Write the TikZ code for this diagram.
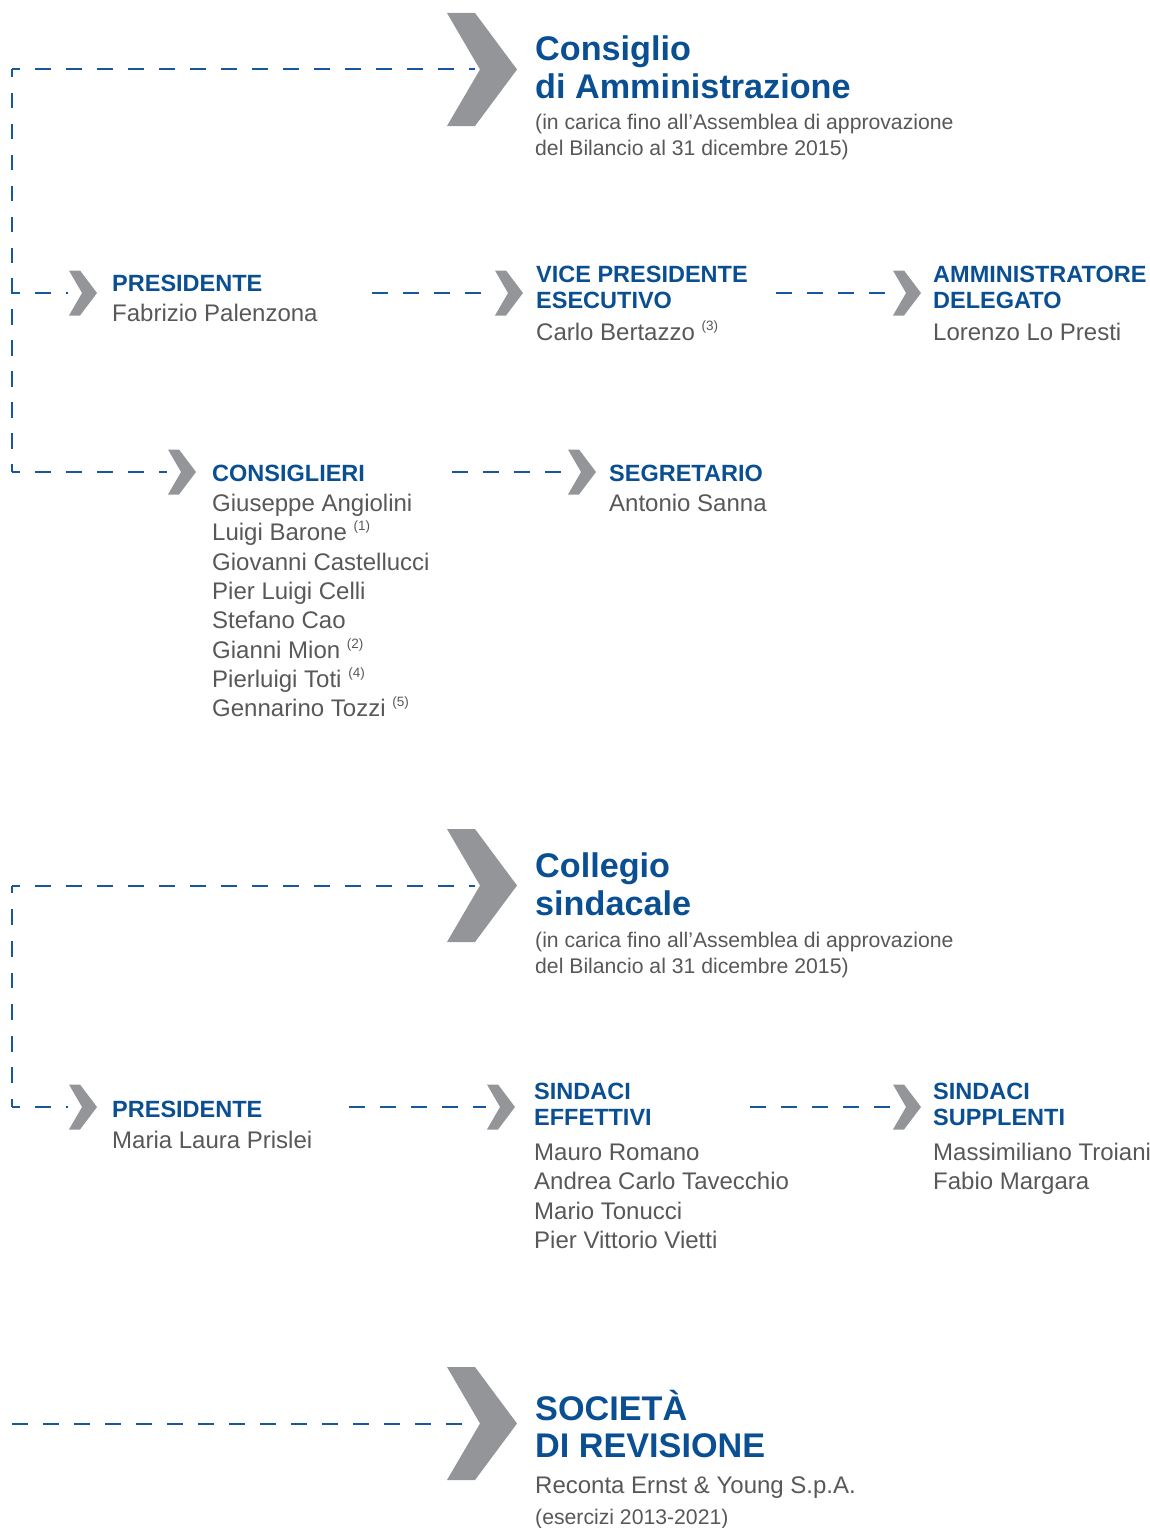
\documentclass[tikz,border=0pt]{standalone}
\usepackage{fontspec}
\setmainfont{Liberation Sans}
\definecolor{tblue}{RGB}{10,79,146}
\definecolor{tgray}{RGB}{88,88,90}
\definecolor{cgray}{RGB}{147,149,152}
\definecolor{dblue}{RGB}{22,88,155}
\newcommand{\fn}[1]{{\fontsize{13.5}{13.5}\selectfont\raisebox{10pt}{(#1)}}}
\newcommand{\bigchev}[3]{\fill[cgray] (#2,#3-56.5) -- (#2+28,#3-56.5) -- (#2+70,#3) -- (#2+28,#3+56.5) -- (#2,#3+56.5) -- (#2+33,#3) -- cycle; \coordinate (#1) at (#2+28,#3);}
\newcommand{\smchev}[3]{\fill[cgray] (#2,#3-22.5) -- (#2+11,#3-22.5) -- (#2+28,#3) -- (#2+11,#3+22.5) -- (#2,#3+22.5) -- (#2+13,#3) -- cycle; \coordinate (#1) at (#2-1,#3);}
\begin{document}
\begin{tikzpicture}[x=1pt,y=-1pt,
  title/.style={text=tblue, font=\fontsize{34.2}{38}\selectfont\bfseries, anchor=base west, inner sep=0},
  sub/.style={text=tgray, font=\fontsize{21.2}{26}\selectfont, anchor=base west, inner sep=0},
  lab/.style={text=tblue, font=\fontsize{23.5}{26}\selectfont\bfseries, anchor=base west, inner sep=0},
  names/.style={text=tgray, font=\fontsize{24}{29.3}\selectfont, anchor=base west, inner sep=0},
  link/.style={draw=dblue, line width=2pt, dash pattern=on 15.5pt off 15.5pt}]
\useasboundingbox (0,0) rectangle (1149,1528);

% ---------------- Consiglio di Amministrazione
\bigchev{b1}{447}{69.5}
\node[title] (t1) at (535,60) {\vtop{\hbox{Consiglio}\hbox{di Amministrazione}}};
\node[sub] (s1) at (535,129.5) {\vtop{\hbox{(in carica fino all’Assemblea di approvazione}\hbox{del Bilancio al 31 dicembre 2015)}}};
\coordinate (k1) at (12,69.5);
\coordinate (k2) at (12,472);
\coordinate (k3) at (12,293);

\smchev{c11}{69}{293}
\node[lab] (l11) at (112,291.5) {PRESIDENTE};
\node[names] (n11) at (112,321.5) {Fabrizio Palenzona};
\coordinate (a12) at (372,293);
\smchev{c12}{495}{293}
\node[lab] (l12) at (536,282.5) {\vtop{\hbox{VICE PRESIDENTE}\hbox{ESECUTIVO}}};
\node[names] (n12) at (536,340.5) {Carlo Bertazzo \fn{3}};
\coordinate (a13) at (776,293);
\smchev{c13}{893}{293}
\node[lab] (l13) at (933,282.5) {\vtop{\hbox{AMMINISTRATORE}\hbox{DELEGATO}}};
\node[names] (n13) at (933,340.5) {Lorenzo Lo Presti};

\smchev{c21}{168}{472}
\node[lab] (l21) at (212,481.5) {CONSIGLIERI};
\node[names] (n21) at (212,511.5) {\vtop{\hbox{Giuseppe Angiolini}\hbox{Luigi Barone \fn{1}}\hbox{Giovanni Castellucci}\hbox{Pier Luigi Celli}\hbox{Stefano Cao}\hbox{Gianni Mion \fn{2}}\hbox{Pierluigi Toti \fn{4}}\hbox{Gennarino Tozzi \fn{5}}}};
\coordinate (a22) at (452,472);
\smchev{c22}{568}{472}
\node[lab] (l22) at (609,481.5) {SEGRETARIO};
\node[names] (n22) at (609,511.5) {Antonio Sanna};

\draw[link, dash phase=7.75pt] (k1) -- (b1);
\draw[link, dash phase=7.75pt, dash pattern=on 15.48pt off 15.48pt] (k1) -- (k2);
\draw[link, dash phase=7.75pt] (k2) -- (c21);
\draw[link, dash phase=7.75pt] (k3) -- (c11);
\draw[link] (a12) -- (c12);
\draw[link] (a13) -- (c13);
\draw[link] (a22) -- (c22);

% ---------------- Collegio sindacale
\bigchev{b2}{447}{885.5}
\node[title] (t2) at (535,877) {\vtop{\hbox{Collegio}\hbox{sindacale}}};
\node[sub] (s2) at (535,947.5) {\vtop{\hbox{(in carica fino all’Assemblea di approvazione}\hbox{del Bilancio al 31 dicembre 2015)}}};
\coordinate (k4) at (12,885.5);
\coordinate (k5) at (12,1107);

\smchev{c31}{69}{1107}
\node[lab] (l31) at (112,1117.5) {PRESIDENTE};
\node[names] (n31) at (112,1148.5) {Maria Laura Prislei};
\coordinate (a32) at (349,1107);
\smchev{c32}{487}{1107}
\node[lab] (l32) at (534,1099.5) {\vtop{\hbox{SINDACI}\hbox{EFFETTIVI}}};
\node[names] (n32) at (534,1160.5) {\vtop{\hbox{Mauro Romano}\hbox{Andrea Carlo Tavecchio}\hbox{Mario Tonucci}\hbox{Pier Vittorio Vietti}}};
\coordinate (a33) at (750,1107);
\smchev{c33}{893}{1107}
\node[lab] (l33) at (933,1099.5) {\vtop{\hbox{SINDACI}\hbox{SUPPLENTI}}};
\node[names] (n33) at (933,1160.5) {\vtop{\hbox{Massimiliano Troiani}\hbox{Fabio Margara}}};

\draw[link, dash phase=7.75pt] (k4) -- (b2);
\draw[link, dash phase=7.9pt, dash pattern=on 15.82pt off 15.82pt] (k4) -- (k5);
\draw[link, dash phase=7.75pt] (k5) -- (c31);
\draw[link] (a32) -- (c32);
\draw[link] (a33) -- (c33);

% ---------------- Società di revisione
\bigchev{b3}{447}{1423.5}
\coordinate (k6) at (12,1423.5);
\node[title, font=\fontsize{34.2}{37}\selectfont\bfseries] (t3) at (535,1420) {\vtop{\hbox{SOCIETÀ}\hbox{DI REVISIONE}}};
\node[names] (n41) at (535,1493.5) {Reconta Ernst \& Young S.p.A.};
\node[names, font=\fontsize{21.2}{26}\selectfont] (n42) at (535,1524.5) {(esercizi 2013-2021)};
\draw[link] (k6) -- (b3);
\end{tikzpicture}
\end{document}
